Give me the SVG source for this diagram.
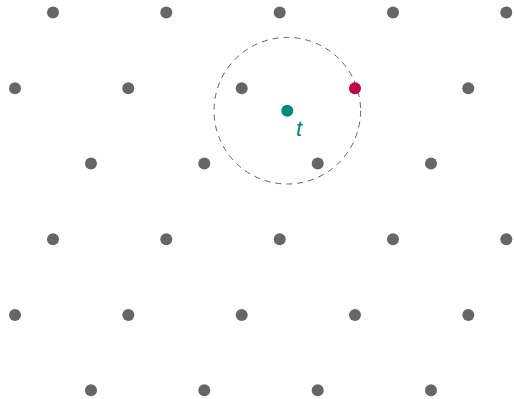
<svg xmlns="http://www.w3.org/2000/svg" width="514" height="399" viewBox="0 0 514 399">
<style>
.p{fill:#666666}
.t{fill:#00897b}
.r{fill:#c2004a}
.c{fill:none;stroke:#666666;stroke-width:1;stroke-dasharray:6 5}
.lbl{font-family:"Liberation Sans",Arial,sans-serif;font-style:italic;font-size:22px;fill:#00897b}
</style>
<rect width="514" height="399" fill="#ffffff"/>
<g id="connectors">
<circle class="c" cx="287.3" cy="110.7" r="73.3"/>
</g>
<g id="lattice">
<circle class="p" cx="53" cy="12.5" r="6"/><circle class="p" cx="166.3" cy="12.5" r="6"/><circle class="p" cx="279.7" cy="12.5" r="6"/><circle class="p" cx="393" cy="12.5" r="6"/><circle class="p" cx="506.3" cy="12.5" r="6"/>
<circle class="p" cx="15" cy="88.3" r="6"/><circle class="p" cx="128.3" cy="88.3" r="6"/><circle class="p" cx="241.7" cy="88.3" r="6"/><circle class="p" cx="468.3" cy="88.3" r="6"/>
<circle class="p" cx="91" cy="163.5" r="6"/><circle class="p" cx="204.3" cy="163.5" r="6"/><circle class="p" cx="317.7" cy="163.5" r="6"/><circle class="p" cx="431" cy="163.5" r="6"/>
<circle class="p" cx="53" cy="239.3" r="6"/><circle class="p" cx="166.3" cy="239.3" r="6"/><circle class="p" cx="279.7" cy="239.3" r="6"/><circle class="p" cx="393" cy="239.3" r="6"/><circle class="p" cx="506.3" cy="239.3" r="6"/>
<circle class="p" cx="15" cy="315" r="6"/><circle class="p" cx="128.3" cy="315" r="6"/><circle class="p" cx="241.7" cy="315" r="6"/><circle class="p" cx="355" cy="315" r="6"/><circle class="p" cx="468.3" cy="315" r="6"/>
<circle class="p" cx="91" cy="390.3" r="6"/><circle class="p" cx="204.3" cy="390.3" r="6"/><circle class="p" cx="317.7" cy="390.3" r="6"/><circle class="p" cx="431" cy="390.3" r="6"/>
</g>
<g id="red-point"><circle class="r" cx="355" cy="88.3" r="6"/></g>
<g id="target"><circle class="t" cx="287.3" cy="110.7" r="6"/><text class="lbl" x="296" y="136">t</text></g>
</svg>
